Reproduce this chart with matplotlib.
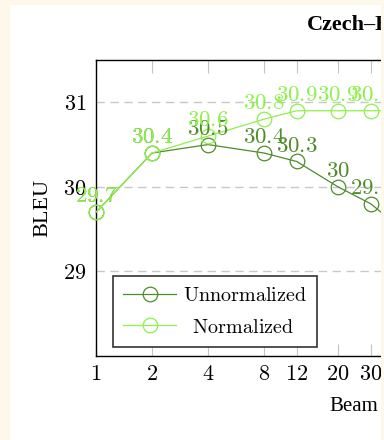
import matplotlib.pyplot as plt
import matplotlib.patches as mpatches
import numpy as np

plt.rcParams['mathtext.fontset'] = 'cm'

beams = [1, 2, 4, 8, 12, 20, 30, 50]
unnormalized = [29.7, 30.4, 30.5, 30.4, 30.3, 30.0, 29.8, 29.4]
normalized = [29.7, 30.4, 30.6, 30.8, 30.9, 30.9, 30.9, 30.9]
tick_beams = [1, 2, 4, 8, 12, 20, 30, 50, 100]

dark = '#4f8c2a'
light = '#8ef04c'
cream = '#fdf8ea'

fig = plt.figure(figsize=(3.84, 4.40), dpi=100)
fig.patch.set_facecolor(cream)
# white page area
fig.patches.append(mpatches.Rectangle((10 / 384, 0), 374 / 384, 435 / 440,
                                      transform=fig.transFigure,
                                      facecolor='white', edgecolor='none', zorder=-5))

ax = fig.add_axes([96 / 384, 84 / 440, 558 / 384, 296 / 440])
ax.set_xscale('log', base=2)
ax.set_xlim(1, 1000)
ax.set_ylim(28.0, 31.5)

# legend labels centred like pgfplots does it
leg_labels = [r'$\mathrm{Unnormalized}$', r'$\;\;\mathrm{Normalized}$']

for vals, col, name in [(unnormalized, dark, leg_labels[0]),
                        (normalized, light, leg_labels[1])]:
    ax.plot(beams, vals, color=col, lw=0.9, marker='o', ms=10.5,
            mfc='none', mec=col, mew=0.9, label=name,
            clip_on=False, zorder=3)
    for b, v in zip(beams, vals):
        lbl = ('%.1f' % v).rstrip('0').rstrip('.')
        ax.annotate(r'$%s$' % lbl, (b, v), xytext=(0, 3.5), textcoords='offset points',
                    ha='center', va='bottom', color=col, fontsize=16.5, zorder=4)

ax.set_yticks([29, 30, 31])
ax.set_yticklabels([r'$29$', r'$30$', r'$31$'], fontsize=16)
ax.set_xticks(tick_beams)
ax.set_xticklabels([r'$%d$' % b for b in tick_beams], fontsize=16)
ax.minorticks_off()
ax.tick_params(axis='x', direction='in', length=9, width=0.8, color='#c4c4c4',
               top=True, pad=6)
ax.tick_params(axis='y', length=0, pad=7)
ax.grid(axis='y', color='#c8c8c8', ls=(0, (6, 4)), lw=1.0)
for s in ax.spines.values():
    s.set_linewidth(1.0)

leg = ax.legend(loc='lower left', bbox_to_anchor=(113 / 384, 93 / 440),
                bbox_transform=fig.transFigure, borderaxespad=0,
                fontsize=14.5, handlelength=2.6, handletextpad=0.35,
                labelspacing=0.62, borderpad=0.52, fancybox=False,
                framealpha=1, edgecolor='#333333')
leg.get_frame().set_linewidth(1.2)
leg.set_zorder(5)

fig.text(307 / 384, 1 - 30 / 440, 'Czech–English', fontsize=16, fontweight='bold',
         family='Liberation Serif', ha='left', va='baseline')
fig.text(329 / 384, 1 - 411 / 440, 'Beam', fontsize=15,
         family='Liberation Serif', ha='left', va='baseline')
fig.text(43 / 384, 1 - 208 / 440, 'BLEU', fontsize=16, rotation=90,
         family='Liberation Serif', ha='center', va='center')

# cream strip on the right edge, on top of everything
fig.add_artist(mpatches.Rectangle((381 / 384, 0), 3 / 384, 1,
                                  transform=fig.transFigure,
                                  facecolor=cream, edgecolor='none', zorder=50))

fig.savefig('out.png', dpi=100, facecolor=fig.get_facecolor())
